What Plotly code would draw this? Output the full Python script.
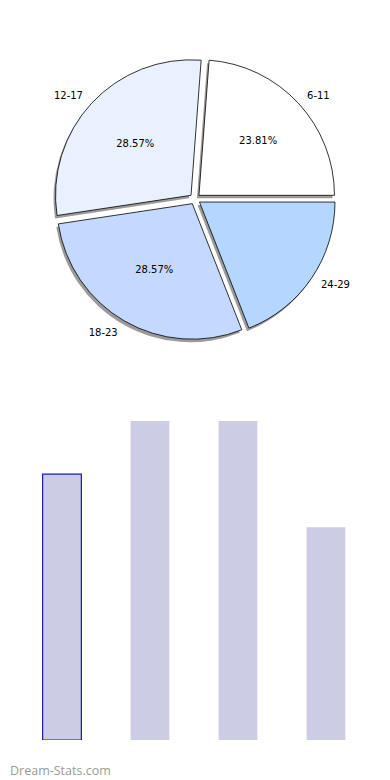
import plotly.graph_objects as go

# Data
categories = ["6-11", "12-17", "18-23", "24-29"]
counts = [5, 6, 6, 4]
pie_colors = ["#ffffff", "#eaf1fe", "#c5d9fe", "#b5d6ff"]
pct_templates = ["%{percent:.2%}", "%{percent:.2%}", "%{percent:.2%}", ""]
bar_color = "#ccccE4"

W, H = 390, 780
OFF = 8  # page body margin: figure appears shifted by this many px
slice_pull = 0.04
label_pull = 0.10
rot = 90 - 360 * counts[0] / sum(counts)

R = 135.5
cx_px, cy_px = 195 - OFF, 199 - OFF


def dom(half, dx=0, dy=0):
    return dict(x=[(cx_px + dx - half) / W, (cx_px + dx + half) / W],
                y=[1 - (cy_px + dy + half) / H, 1 - (cy_px + dy - half) / H])


fig = go.Figure()

common = dict(labels=categories, values=counts, sort=False,
              direction="counterclockwise", rotation=rot,
              hoverinfo="skip", automargin=False, showlegend=False)

# shadow
fig.add_trace(go.Pie(**common, pull=[slice_pull] * 4,
                     domain=dom(R * (1 + slice_pull), dx=-2, dy=3),
                     marker=dict(colors=["#8a8a8a"] * 4, line=dict(width=0)),
                     textinfo="none", opacity=0.85))

# slices with percentages
fig.add_trace(go.Pie(**common, pull=[slice_pull] * 4,
                     domain=dom(R * (1 + slice_pull)),
                     marker=dict(colors=pie_colors,
                                 line=dict(color="#000000", width=0.8)),
                     texttemplate=pct_templates, textposition="inside",
                     insidetextorientation="horizontal",
                     textfont=dict(family="DejaVu Sans", size=10, color="#000000")))

# outside labels (transparent pie)
fig.add_trace(go.Pie(**common, pull=[label_pull] * 4,
                     domain=dom(R * (1 + label_pull)),
                     marker=dict(colors=["rgba(0,0,0,0)"] * 4, line=dict(width=0)),
                     texttemplate="%{label}", textposition="outside",
                     outsidetextfont=dict(family="DejaVu Sans", size=10, color="#000000")))

fig.add_trace(go.Bar(x=categories, y=counts, xaxis="x", yaxis="y",
                     marker=dict(color=bar_color,
                                 line=dict(color=["#1a1aa0", "rgba(0,0,0,0)",
                                                  "rgba(0,0,0,0)", "rgba(0,0,0,0)"],
                                           width=[1.2, 0, 0, 0])),
                     width=0.44, hoverinfo="skip", showlegend=False))

fig.update_layout(
    width=W, height=H, autosize=False, showlegend=False,
    margin=dict(l=0, r=0, t=0, b=0, pad=0, autoexpand=False),
    paper_bgcolor="white", plot_bgcolor="white",
    xaxis=dict(domain=[(18 - OFF) / W, (370 - OFF) / W], visible=False,
               range=[-0.5, 3.5]),
    yaxis=dict(domain=[1 - (740 - OFF) / H, 1 - (421 - OFF) / H], visible=False,
               range=[0, 6]),
    annotations=[dict(text="Dream-Stats.com", xref="paper", yref="paper",
                      x=0, y=1 - (770 - OFF) / H,
                      xanchor="left", yanchor="middle", showarrow=False,
                      font=dict(family="Open Sans", size=12.5, color="#9a9a9a"))],
)

fig.write_html("out.html")
